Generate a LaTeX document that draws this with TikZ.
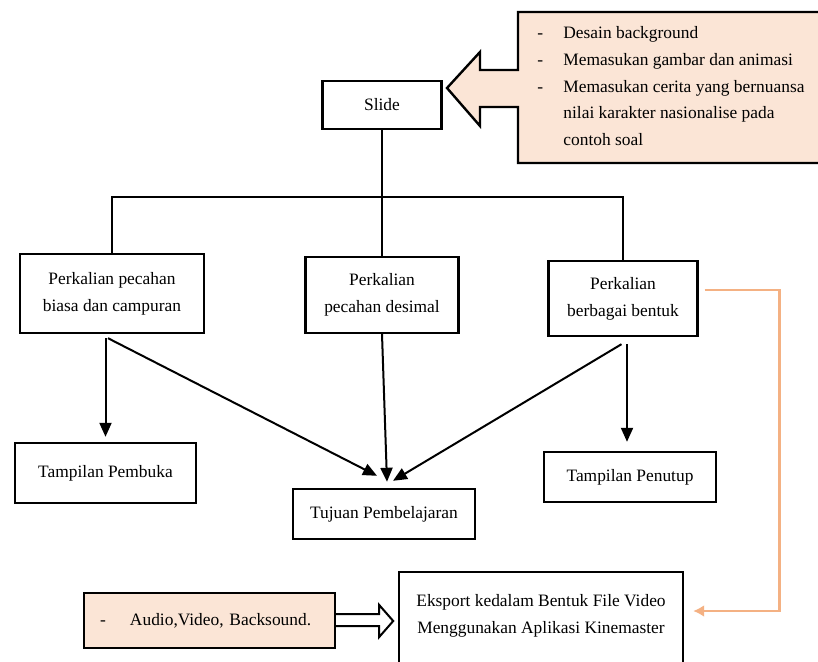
\documentclass[tikz,border=0pt]{standalone}
\usepackage{fontspec}
\setmainfont{Liberation Serif}
\usetikzlibrary{arrows.meta}
\definecolor{peach}{HTML}{FBE5D6}
\definecolor{salmon}{HTML}{F4B183}
\begin{document}
\begin{tikzpicture}[x=0.5pt,y=-0.5pt,
  box/.style={draw,line width=1.2pt,align=center,inner sep=0pt,font=\fontsize{8.7}{13.5}\selectfont},
  arr/.style={line width=1pt,-{Triangle[length=7pt,width=6pt]}},
  link/.style={line width=1pt},
  orangelink/.style={draw=salmon,line width=1.4pt,-{Latex[length=5.5pt,width=6pt]}}]
  \useasboundingbox (0,0) rectangle (818,662);
  \fill[white] (0,0) rectangle (818,662);
  \filldraw[fill=peach,line width=1.2pt] (518,12) -- (830,12) -- (830,163) -- (518,163) -- (518,107) -- (480,107) -- (480,126) -- (447,88) -- (480,52) -- (480,70) -- (518,70) -- cycle;
  \node[anchor=north west,align=left,inner sep=0pt,font=\fontsize{8.7}{13.4}\selectfont] (tips) at (537,26) {\makebox[13pt][l]{-}Desain background\\
    \makebox[13pt][l]{-}Memasukan gambar dan animasi\\
    \makebox[13pt][l]{-}Memasukan cerita yang bernuansa\\
    \makebox[13pt][l]{}nilai karakter nasionalise pada\\
    \makebox[13pt][l]{}contoh soal};
  \node[box,minimum width=59.5pt,minimum height=24pt] (slide) at (382,105) {Slide};
  \node[box,minimum width=92pt,minimum height=39.5pt] (b1) at (112,293.5) {Perkalian pecahan\\biasa dan campuran};
  \node[box,minimum width=76.5pt,minimum height=38pt] (b2) at (382,295) {Perkalian\\pecahan desimal};
  \node[box,minimum width=74.5pt,minimum height=37.5pt] (b3) at (623,298.5) {Perkalian\\berbagai bentuk};
  \node[box,minimum width=90.5pt,minimum height=30pt] (pembuka) at (105.5,473) {Tampilan Pembuka};
  \node[box,minimum width=91pt,minimum height=25pt] (tujuan) at (384,514) {Tujuan Pembelajaran};
  \node[box,minimum width=86pt,minimum height=25pt] (penutup) at (630,477) {Tampilan Penutup};
  \node[box,minimum width=142pt,minimum height=48pt] (eksport) at (541,620) {Eksport kedalam Bentuk File Video\\Menggunakan Aplikasi Kinemaster\\[-7pt]\mbox{}};
  \node[box,fill=peach,minimum height=27.5pt,text width=109.5pt,inner xsep=8pt,align=left] (audio) at (209.5,620.5) {\makebox[15pt][l]{-}Audio,Video, Backsound.};
  \coordinate (bus) at (382,197);
  \draw[link] (slide.south) -- (b2.north);
  \draw[link] (b1.north) |- (bus) -| (b3.north);
  \draw[arr,shorten <=2pt,shorten >=2.5pt] (pembuka.north |- b1.south) -- (pembuka.north);
  \draw[arr] ([xshift=-2pt,yshift=-2pt]b1.south) -- ([xshift=-3.5pt,yshift=6pt]tujuan.north);
  \draw[arr] (b2.south) -- ([xshift=1.5pt,yshift=3pt]tujuan.north);
  \draw[arr] ([xshift=-0.75pt,yshift=-3.5pt]b3.south) -- ([xshift=4.5pt,yshift=3.5pt]tujuan.north);
  \draw[arr] ([xshift=2pt,yshift=-3.5pt]b3.south) -- ([xshift=-1.5pt,yshift=4.5pt]penutup.north);
  \draw[orangelink] ([xshift=3pt,yshift=4.25pt]b3.east) -- ++(75,0) |- ([xshift=4.5pt,yshift=4.5pt]eksport.east);
  \draw[line width=1pt,fill=white] ([yshift=3.25pt]audio.east) -- ++(43,0) -- ++(0,-9) -- ++(14,16) -- ++(-14,16) -- ++(0,-11) -- ++(-43,0);
\end{tikzpicture}
\end{document}
